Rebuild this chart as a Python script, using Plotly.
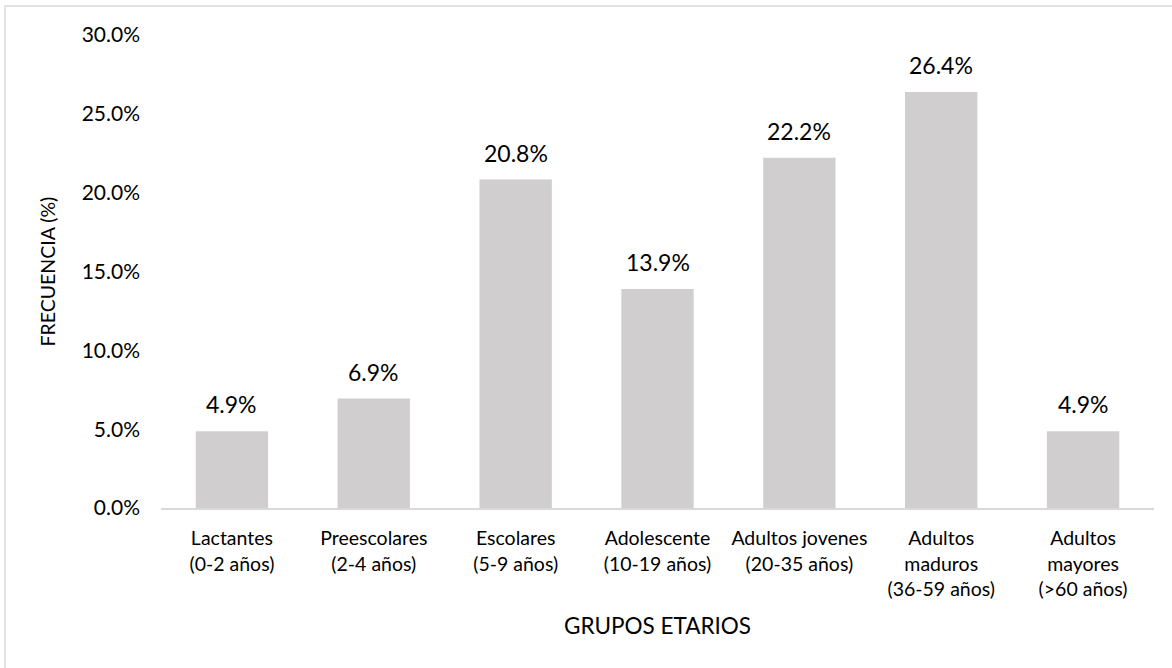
import plotly.graph_objects as go

categories = [
    "Lactantes<br>(0-2 años)",
    "Preescolares<br>(2-4 años)",
    "Escolares<br>(5-9 años)",
    "Adolescente<br>(10-19 años)",
    "Adultos jovenes<br>(20-35 años)",
    "Adultos<br>maduros<br>(36-59 años)",
    "Adultos<br>mayores<br>(>60 años)",
]
values = [4.86, 6.94, 20.83, 13.89, 22.22, 26.39, 4.86]
y_ticks = [0, 5, 10, 15, 20, 25, 30]
y_tick_labels = ["0.0%", "5.0%", "10.0%", "15.0%", "20.0%", "25.0%", "30.0%"]

FONT = "Lato"
W, H = 1172, 668
L, R, T, B = 161, 18, 35, 160
pw, ph = W - L - R, H - T - B

def px_x(p):
    return (p - L) / pw

def px_y(p):
    return (H - B - p) / ph

fig = go.Figure(
    go.Bar(
        x=categories,
        y=values,
        marker=dict(color="#d0cece", line=dict(width=0)),
        hoverinfo="skip",
    )
)

for c, v in zip(categories, values):
    fig.add_annotation(
        x=c, y=v, xref="x", yref="y",
        text=f"{v:.1f}%", showarrow=False,
        yanchor="middle", yshift=27,
        font=dict(family=FONT, size=23, color="black"),
    )

fig.add_annotation(
    x=0.5, y=px_y(625), xref="paper", yref="paper",
    text="GRUPOS ETARIOS", showarrow=False,
    xanchor="center", yanchor="middle",
    font=dict(family=FONT, size=22.5, color="black"),
)
fig.add_annotation(
    x=px_x(47), y=0.5, xref="paper", yref="paper",
    text="FRECUENCIA (%)", showarrow=False, textangle=-90,
    xanchor="center", yanchor="middle",
    font=dict(family=FONT, size=19.5, color="black"),
)

fig.add_shape(
    type="rect", xref="paper", yref="paper",
    x0=px_x(5), x1=px_x(1185), y0=px_y(6), y1=px_y(690),
    line=dict(color="#d9d9d9", width=1.5), fillcolor="rgba(0,0,0,0)",
    layer="below",
)

fig.update_layout(
    width=W, height=H,
    margin=dict(l=L, r=R, t=T, b=B, pad=0),
    paper_bgcolor="white", plot_bgcolor="white",
    bargap=0.49,
    showlegend=False,
    font=dict(family=FONT, color="black"),
)
fig.update_xaxes(
    showline=True, linecolor="#d9d9d9", linewidth=1.5,
    showgrid=False, ticks="", ticklabelstandoff=12,
    tickfont=dict(family=FONT, size=19.5, color="black"),
    fixedrange=True,
)
fig.update_yaxes(
    range=[0, 30], tickvals=y_ticks, ticktext=y_tick_labels,
    showgrid=False, zeroline=False, showline=False, ticks="",
    ticklabelstandoff=20,
    tickfont=dict(family=FONT, size=21, color="black"),
    fixedrange=True,
)

fig.write_html("out.html", config={"displayModeBar": False})
